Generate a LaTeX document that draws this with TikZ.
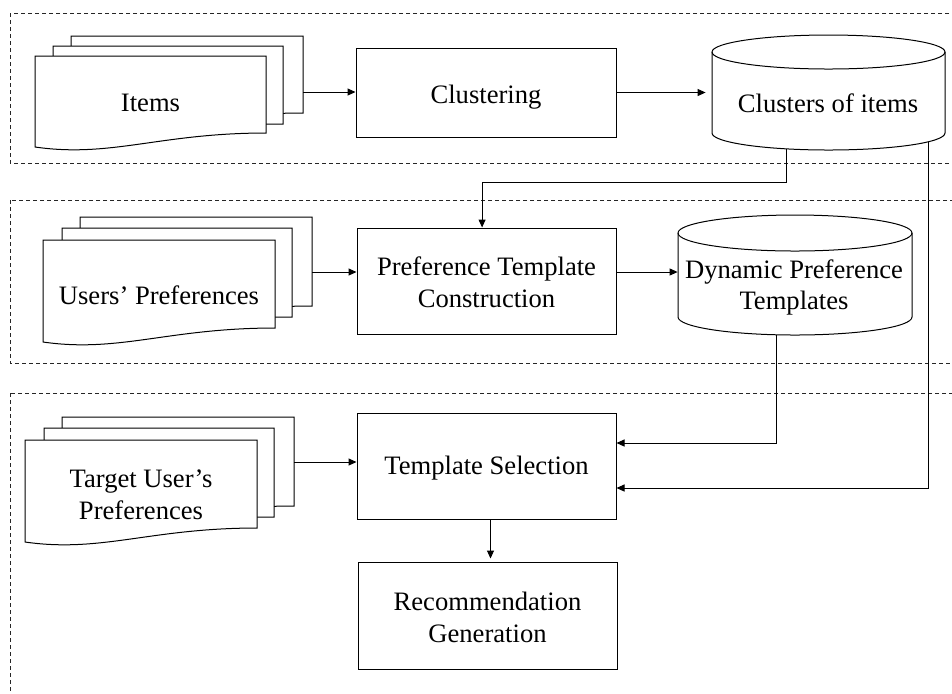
\documentclass[tikz,border=0pt]{standalone}
\usepackage{fontspec}
\setmainfont{Liberation Serif}
\usetikzlibrary{arrows.meta,calc}
\tikzset{
  txt/.style={inner sep=0pt, align=center, font=\fontsize{13.3}{15.8}\selectfont},
  proc/.style={txt, draw, line width=0.5pt, fill=white, minimum width=129.5pt, minimum height=53pt},
  grp/.style={draw=black!85, dash pattern=on 2pt off 1.5pt, line width=0.5pt},
  conn/.style={line width=0.5pt, -{Triangle[length=4pt,width=3.5pt]}},
  docshape/.style={draw, fill=white, line width=0.5pt},
  ghost/.style={inner sep=0pt, draw=none},
}
% document shape: xl, yt, xr, yr (right bottom)
\newcommand\mydoc[4]{%
  \pgfmathsetmacro\mydocw{#3-#1}%
  \draw[docshape] (#1,#2) -- (#3,#2) -- (#3,#4)
    .. controls ({#1+0.54*\mydocw},#4) and ({#1+0.33*\mydocw},{#4+25}) .. (#1,{#4+14}) -- cycle;}
% cylinder: x1, x2, y top-ellipse centre, y bottom-ellipse centre, ry
\newcommand\mycyl[5]{%
  \pgfmathsetmacro\cylcx{(#1+#2)/2}%
  \pgfmathsetmacro\cylrx{(#2-#1)/2}%
  \pgfmathsetmacro\cylkx{0.5523*\cylrx}%
  \pgfmathsetmacro\cylky{0.5523*#5}%
  \draw[docshape] (#1,#3) -- (#1,#4)
    .. controls (#1,{#4+\cylky}) and ({\cylcx-\cylkx},{#4+#5}) .. (\cylcx,{#4+#5})
    .. controls ({\cylcx+\cylkx},{#4+#5}) and (#2,{#4+\cylky}) .. (#2,#4)
    -- (#2,#3)
    .. controls (#2,{#3-\cylky}) and ({\cylcx+\cylkx},{#3-#5}) .. (\cylcx,{#3-#5})
    .. controls ({\cylcx-\cylkx},{#3-#5}) and (#1,{#3-\cylky}) .. (#1,#3) -- cycle;
  \draw[line width=0.5pt] (#1,#3)
    .. controls (#1,{#3+\cylky}) and ({\cylcx-\cylkx},{#3+#5}) .. (\cylcx,{#3+#5})
    .. controls ({\cylcx+\cylkx},{#3+#5}) and (#2,{#3+\cylky}) .. (#2,#3);}
\begin{document}
\begin{tikzpicture}[x=0.5pt, y=-0.5pt]
\clip (0,0) rectangle (952,693);
\fill[white] (0,0) rectangle (952,693);

% groups
\draw[grp] (10,13) rectangle (970,163);
\draw[grp] (10,200) rectangle (970,363);
\draw[grp] (10,393) rectangle (970,720);

% process boxes
\node[proc, minimum width=130pt, minimum height=44.5pt] (clus) at (486,92.5) {};
\node[txt] (clustxt) at (486,97) {Clustering};
\node[proc] (ptc) at (486.5,281) {};
\node[txt] (ptctxt) at (486.5,282.5) {Preference Template\\Construction};
\node[proc] (ts) at (486.5,466) {};
\node[txt] (tstxt) at (486.5,468) {Template Selection};
\node[proc, minimum height=53.5pt] (rec) at (487.5,615.5) {};
\node[txt] (rectxt) at (487.5,617.5) {Recommendation\\Generation};

% cylinder placeholders
\node[ghost, minimum width=116.5pt, minimum height=57.5pt] (clcyl) at (828.5,92.5) {};
\node[ghost, minimum width=117pt, minimum height=60pt] (dyncyl) at (795,275) {};

% document stacks
\mydoc{71}{36}{303}{113}
\mydoc{53}{46}{283}{124}
\mydoc{35}{56}{266}{133}
\mydoc{80}{217}{312}{306}
\mydoc{62}{228}{292}{317}
\mydoc{43}{240}{275}{328}
\mydoc{62}{417}{294}{506}
\mydoc{44}{428}{274}{517}
\mydoc{25}{440}{257}{528}

\node[txt] (items) at (150.5,103) {Items};
\node[txt] (users) at (159,295) {Users' Preferences};
\node[txt] (target) at (141,495) {Target User's\\Preferences};

\coordinate (itemsout) at (303,92);
\coordinate (usersout) at (312,272);
\coordinate (targetout) at (294,462);

% connectors
\draw[conn] (itemsout) -- (itemsout -| clus.west);
\draw[conn, shorten >=3pt] (clus.east) -- (clus.east -| clcyl.west);
\draw[conn] (usersout) -- (usersout -| ptc.west);
\coordinate (ptcout) at ($(ptc.east)+(0,-9)$);
\draw[conn] (ptcout) -- (ptcout -| dyncyl.west);
\draw[conn] (targetout) -- (targetout -| ts.west);

\coordinate (c1) at (786,140);
\coordinate (c2) at (928,135);
\coordinate (d1) at (776,320);
\coordinate (ptcin) at ($(ptc.north west)!0.483!(ptc.north east)$);
\draw[conn] (c1) |- ($(ptcin)+(0,-45)$) -- (ptcin);
\draw[conn] (c2) |- ($(ts.east)+(0,22)$);
\draw[conn] (d1) |- ($(ts.east)+(0,-23)$);
\draw[conn, shorten >=1.5pt] ($(ts.south)+(4,0)$) -- ($(rec.north)+(3,0)$);

% cylinders
\mycyl{712}{945}{52}{133}{17}
\mycyl{678}{912}{233}{317}{18}
\node[txt] (cltext) at (828,103) {Clusters of items};
\node[txt] (dyntext) at (794,287.5) {Dynamic Preference\\Templates};
\end{tikzpicture}
\end{document}
